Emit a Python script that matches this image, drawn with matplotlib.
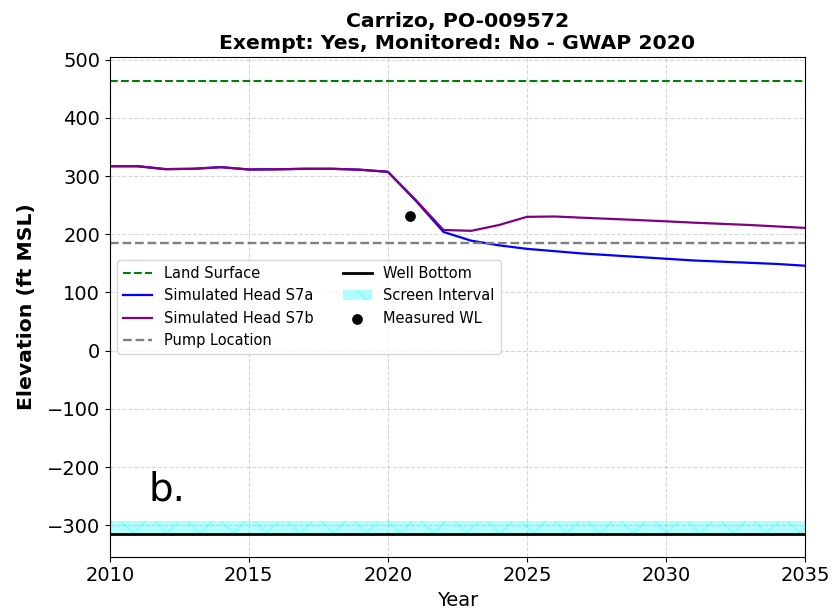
import matplotlib
matplotlib.use("Agg")
import matplotlib.pyplot as plt
import numpy as np

# data
years = [2010, 2011, 2012, 2013, 2014, 2015, 2016, 2017, 2018, 2019, 2020,
         2021, 2022, 2023, 2024, 2025, 2026, 2027, 2028, 2029, 2030,
         2031, 2032, 2033, 2034, 2035]
head_s7a = [317, 317, 312, 312.6, 315.4, 311.4, 311.7, 312.6, 312.6, 311, 307.4,
            258, 204, 189, 181, 175, 171, 167, 164, 161, 158,
            155, 153, 151, 149, 146]
head_s7b = [317, 317, 312, 312.6, 315.4, 311.4, 311.7, 312.6, 312.6, 311, 307.4,
            259, 207.4, 206, 216, 230, 230.6, 228.5, 226.5, 224.5, 222.3,
            220, 218, 216, 213.5, 211]
measured_year = [2020.8]
measured_wl = [231]
land_surface = 464
pump_location = 185
well_bottom = -314.5
screen_top = -293

fig, ax = plt.subplots(figsize=(8.32, 6.11), dpi=100)
fig.subplots_adjust(left=0.132, right=0.9675, top=0.906, bottom=0.089)

ax.axhline(land_surface, color='green', linestyle='--', lw=1.5, label='Land Surface')
ax.plot(years, head_s7a, color='blue', lw=1.6, label='Simulated Head S7a')
ax.plot(years, head_s7b, color='purple', lw=1.6, label='Simulated Head S7b')
ax.axhline(pump_location, color='gray', linestyle='--', lw=1.7, label='Pump Location')
ax.axhline(well_bottom, color='black', lw=2, label='Well Bottom')
ax.axhspan(well_bottom, screen_top, facecolor='cyan', edgecolor='cyan', alpha=0.3,
           hatch='/\\', lw=0, label='Screen Interval')
ax.scatter(measured_year, measured_wl, color='black', s=45, zorder=5, label='Measured WL')

ax.set_xlim(2010, 2035)
ax.set_ylim(-354, 504)
ax.set_xlabel('Year', fontsize=14)
ax.set_ylabel('Elevation (ft MSL)', fontsize=14.7, fontweight='bold', labelpad=8)
ax.set_title('Carrizo, PO-009572\nExempt: Yes, Monitored: No - GWAP 2020',
             fontsize=14.7, fontweight='bold')
ax.tick_params(labelsize=14)
ax.grid(True, linestyle='--', alpha=0.5)
ax.legend(loc='center left', ncol=2, fontsize=10.5)
ax.text(0.055, 0.113, 'b.', transform=ax.transAxes, fontsize=28)

fig.savefig('out.png', dpi=100)
